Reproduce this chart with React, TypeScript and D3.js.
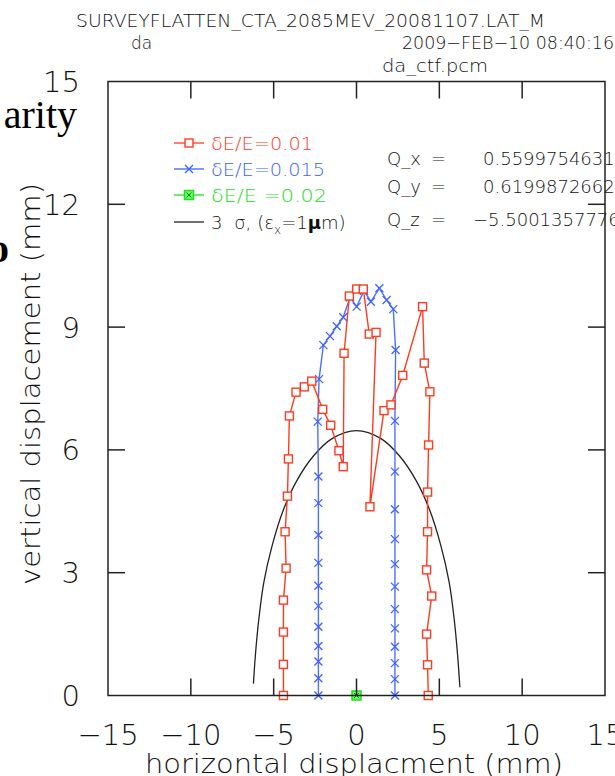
import React from "react";
import * as d3 from "d3";

const W = 615;
const H = 776;

// dE/E = 0.01 (red squares)
const RED_X = [-4.41, -4.41, -4.41, -4.41, -4.25, -4.31, -4.17, -4.11, -4.05, -3.65, -3.15, -2.7, -2.04, -1.56, -1.06, -0.8, -0.75, -0.43, 0.01, 0.41, 0.77, 1.18, 0.81, 1.66, 2.08, 2.79, 3.99, 4.09, 4.43, 4.35, 4.29, 4.29, 4.23, 4.54, 4.23, 4.29, 4.33];
const RED_Y = [0, 0.76, 1.55, 2.33, 3.11, 4.0, 4.87, 5.78, 6.83, 7.41, 7.54, 7.68, 6.99, 6.6, 5.98, 5.59, 8.36, 9.76, 9.93, 9.93, 8.83, 8.87, 4.61, 6.96, 7.1, 7.82, 9.5, 8.12, 7.42, 6.12, 4.97, 4.0, 3.07, 2.43, 1.5, 0.75, 0];

// dE/E = 0.015 (blue crosses)
const BLUE_X = [-2.3, -2.3, -2.3, -2.3, -2.3, -2.3, -2.3, -2.3, -2.3, -2.3, -2.3, -2.34, -2.26, -2.0, -1.6, -1.19, -0.8, -0.39, 0.01, 0.45, 0.87, 1.38, 1.82, 2.22, 2.36, 2.32, 2.32, 2.32, 2.32, 2.32, 2.32, 2.32, 2.32, 2.32, 2.32, 2.32, 2.32];
const BLUE_Y = [0, 0.42, 0.83, 1.21, 1.68, 2.19, 2.68, 3.24, 3.92, 4.7, 5.35, 6.69, 7.73, 8.56, 8.78, 9.02, 9.24, 9.73, 9.5, 9.89, 9.62, 9.95, 9.66, 9.44, 8.44, 6.71, 5.47, 4.55, 3.82, 3.21, 2.66, 2.11, 1.64, 1.19, 0.79, 0.4, 0];

// dE/E = 0.02 (green)
const GREEN_X = [0];
const GREEN_Y = [0];

// 3 sigma beam envelope
const SIGMA_X = [-6.22, -6.1, -5.9, -5.6, -5.1, -4.4, -3.6, -2.6, -1.5, 0, 1.5, 2.6, 3.6, 4.4, 5.1, 5.6, 5.9, 6.1, 6.24];
const SIGMA_Y = [0.29, 1.0, 1.85, 2.75, 3.65, 4.55, 5.25, 5.85, 6.27, 6.47, 6.27, 5.85, 5.25, 4.55, 3.65, 2.75, 1.85, 1.0, 0.2];

const X_TICKS = [-15, -10, -5, 0, 5, 10, 15];
const Y_TICKS = [0, 3, 6, 9, 12, 15];

const Q_LABELS = ["Q_x", "Q_y", "Q_z"];
const Q_VALUES = ["0.55997546317", "0.61998726621", "\u22125.50013577767"];

const RED = "#ff3b1f";
const BLUE = "#3d63ff";
const GREEN = "#22dd22";
const INK = "#222";
const TXT = "#111";
const FONT = "DejaVu Sans";
const THIN = 200;

const fmt = (v: number) => (v < 0 ? "\u2212" + Math.abs(v) : String(v));

const Square = ({ cx, cy, color }: { cx: number; cy: number; color: string }) => (
  <rect x={cx - 4} y={cy - 4} width={8} height={8} fill="#fff" stroke={color} strokeWidth={1.4} />
);

const Cross = ({ cx, cy, color }: { cx: number; cy: number; color: string }) => (
  <path d={`M${cx - 4},${cy - 4}L${cx + 4},${cy + 4}M${cx - 4},${cy + 4}L${cx + 4},${cy - 4}`} stroke={color} strokeWidth={1.3} fill="none" />
);

const BoxCross = ({ cx, cy }: { cx: number; cy: number }) => (
  <g>
    <rect x={cx - 4.5} y={cy - 4.5} width={9} height={9} fill="#66ff66" stroke={GREEN} strokeWidth={1.5} />
    <path d={`M${cx - 2.5},${cy - 2.5}L${cx + 2.5},${cy + 2.5}M${cx - 2.5},${cy + 2.5}L${cx + 2.5},${cy - 2.5}`} stroke="#117711" strokeWidth={1} />
  </g>
);

export default function App() {
  const x = d3.scaleLinear().domain([-15, 15]).range([108, 605]);
  const y = d3.scaleLinear().domain([0, 15]).range([695.5, 81.5]);

  const line = d3.line<[number, number]>().x((d) => x(d[0])).y((d) => y(d[1]));
  const curve = d3
    .line<[number, number]>()
    .x((d) => x(d[0]))
    .y((d) => y(d[1]))
    .curve(d3.curveCatmullRom);

  const red = RED_X.map((v, i) => [v, RED_Y[i]] as [number, number]);
  const blue = BLUE_X.map((v, i) => [v, BLUE_Y[i]] as [number, number]);
  const green = GREEN_X.map((v, i) => [v, GREEN_Y[i]] as [number, number]);
  const sigma = SIGMA_X.map((v, i) => [v, SIGMA_Y[i]] as [number, number]);

  const [x0, x1] = x.range();
  const [y0, y1] = y.range();
  const tick = 17;

  const legendRows = [143, 169, 195, 222];
  const qRows = [158, 186, 219];

  return (
    <svg width={W} height={H} style={{ position: "absolute", left: 0, top: 0, background: "#fff" }}>
      {/* stray text from the surrounding page */}
      <text x={77} y={128} textAnchor="end" fontFamily="Liberation Serif" fontSize={40} fill="#000">arity</text>
      <text x={9} y={262} textAnchor="end" fontFamily="Liberation Serif" fontWeight="bold" fontSize={40} fill="#000">o</text>

      {/* header */}
      <g fontFamily={FONT} fontWeight={THIN} fontSize={17} fill={TXT}>
        <text x={76} y={27} textLength={469} lengthAdjust="spacingAndGlyphs">SURVEYFLATTEN_CTA_2085MEV_20081107.LAT_M</text>
        <text x={131} y={49}>da</text>
        <text x={402} y={49} textLength={212} lengthAdjust="spacingAndGlyphs">2009−FEB−10  08:40:16</text>
        <text x={382} y={72} textLength={106} lengthAdjust="spacingAndGlyphs">da_ctf.pcm</text>
      </g>

      {/* envelope */}
      <path d={curve(sigma) ?? ""} fill="none" stroke={INK} strokeWidth={1.3} />

      {/* series */}
      <path d={line(blue) ?? ""} fill="none" stroke="#4d70ff" strokeWidth={1.4} />
      <path d={line(red) ?? ""} fill="none" stroke={RED} strokeWidth={1.4} />
      {blue.map((d, i) => (
        <Cross key={"b" + i} cx={x(d[0])} cy={y(d[1])} color={BLUE} />
      ))}
      {red.map((d, i) => (
        <Square key={"r" + i} cx={x(d[0])} cy={y(d[1])} color={RED} />
      ))}
      {green.map((d, i) => (
        <BoxCross key={"g" + i} cx={x(d[0])} cy={y(d[1])} />
      ))}

      {/* legend */}
      <g fontFamily={FONT} fontWeight={THIN} fontSize={18}>
        <line x1={174} x2={204} y1={legendRows[0]} y2={legendRows[0]} stroke={RED} strokeWidth={1.3} />
        <Square cx={189} cy={legendRows[0]} color={RED} />
        <text x={211} y={legendRows[0] + 6.5} fill={RED} textLength={102} lengthAdjust="spacingAndGlyphs">δE/E=0.01</text>

        <line x1={174} x2={204} y1={legendRows[1]} y2={legendRows[1]} stroke={BLUE} strokeWidth={1.3} />
        <Cross cx={189} cy={legendRows[1]} color={BLUE} />
        <text x={211} y={legendRows[1] + 6.5} fill={BLUE} textLength={114} lengthAdjust="spacingAndGlyphs">δE/E=0.015</text>

        <line x1={174} x2={204} y1={legendRows[2]} y2={legendRows[2]} stroke={GREEN} strokeWidth={1.3} />
        <BoxCross cx={189} cy={legendRows[2]} />
        <text x={211} y={legendRows[2] + 6.5} fill={GREEN} textLength={116} lengthAdjust="spacingAndGlyphs">δE/E =0.02</text>

        <line x1={174} x2={204} y1={legendRows[3]} y2={legendRows[3]} stroke={INK} strokeWidth={1.3} />
        <text x={211} y={legendRows[3] + 6.5} fill={TXT}>
          3 <tspan dx={6}>σ,</tspan>
          <tspan dx={6}>(ε</tspan>
          <tspan fontSize={12} dy={5}>x</tspan>
          <tspan dy={-5}>=1</tspan>
          <tspan fontWeight="bold">μ</tspan>
          <tspan>m)</tspan>
        </text>

        {Q_LABELS.map((q, i) => (
          <g key={q} fill={TXT}>
            <text x={387} y={qRows[i] + 6.5}>{q}</text>
            <text x={431} y={qRows[i] + 6.5}>=</text>
            <text x={i === 2 ? 473 : 483} y={qRows[i] + 6.5}>{Q_VALUES[i]}</text>
          </g>
        ))}
      </g>

      {/* frame and ticks */}
      <rect x={x0} y={y1} width={x1 - x0} height={y0 - y1} fill="none" stroke={INK} strokeWidth={1.5} />
      {X_TICKS.slice(1, -1).map((t) => (
        <g key={"xt" + t} stroke={INK} strokeWidth={1.5}>
          <line x1={x(t)} x2={x(t)} y1={y0} y2={y0 - tick} />
          <line x1={x(t)} x2={x(t)} y1={y1} y2={y1 + tick} />
        </g>
      ))}
      {Y_TICKS.slice(1, -1).map((t) => (
        <g key={"yt" + t} stroke={INK} strokeWidth={1.5}>
          <line x1={x0} x2={x0 + tick} y1={y(t)} y2={y(t)} />
          <line x1={x1} x2={x1 - tick} y1={y(t)} y2={y(t)} />
        </g>
      ))}

      {/* tick labels */}
      <g fontFamily={FONT} fontWeight={THIN} fontSize={29} fill={TXT}>
        {X_TICKS.map((t) => (
          <text key={"xl" + t} x={x(t)} y={745} textAnchor="middle">{fmt(t)}</text>
        ))}
        {Y_TICKS.map((t) => (
          <text key={"yl" + t} x={80} y={y(t) + 10.5} textAnchor="end">{t}</text>
        ))}
      </g>

      {/* axis titles */}
      <g fontFamily={FONT} fontWeight={THIN} fontSize={27} fill={TXT}>
        <text x={354} y={773} textAnchor="middle" textLength={418} lengthAdjust="spacingAndGlyphs">horizontal displacment (mm)</text>
        <text transform="translate(40,384) rotate(-90)" textAnchor="middle" textLength={402} lengthAdjust="spacingAndGlyphs">vertical displacement (mm)</text>
      </g>
    </svg>
  );
}
